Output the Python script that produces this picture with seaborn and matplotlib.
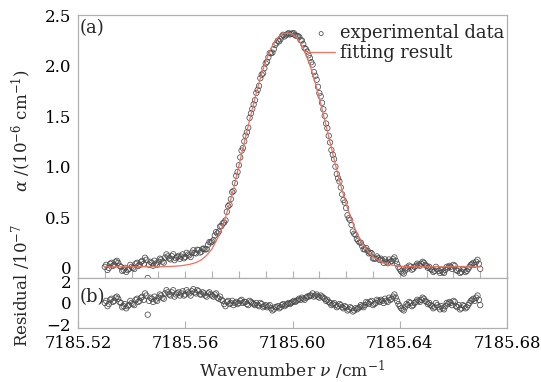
import numpy as np
import pandas as pd
import matplotlib
matplotlib.use('Agg')
import matplotlib.pyplot as plt
from matplotlib.ticker import MultipleLocator
import seaborn as sns

# Wavenumber grids (cm^-1): points on the 0.001 grid and the half-steps between them
wavenumber = np.round(np.arange(7185.530, 7185.6705, 0.001), 4)
wavenumber_mid = np.round(np.arange(7185.5305, 7185.6700, 0.001), 4)

# Fitting result, 10^-6 cm^-1
fit_curve = [
    0.010, 0.010, 0.010, 0.010, 0.010, 0.010, 0.010, 0.010, 0.010, 0.010,
    0.010, 0.010, 0.010, 0.010, 0.010, 0.010, 0.010, 0.010, 0.011, 0.011,
    0.011, 0.012, 0.012, 0.013, 0.014, 0.015, 0.016, 0.018, 0.020, 0.023,
    0.027, 0.031, 0.037, 0.044, 0.053, 0.065, 0.080, 0.100, 0.125, 0.155,
    0.190, 0.240, 0.290, 0.350, 0.420, 0.500, 0.590, 0.680, 0.780, 0.900,
    1.015, 1.129, 1.240, 1.351, 1.463, 1.572, 1.678, 1.780, 1.875, 1.963,
    2.042, 2.112, 2.172, 2.222, 2.261, 2.289, 2.308, 2.318, 2.320, 2.318,
    2.308, 2.289, 2.261, 2.222, 2.172, 2.112, 2.042, 1.963, 1.875, 1.780,
    1.678, 1.572, 1.463, 1.351, 1.240, 1.129, 1.021, 0.916, 0.815, 0.721,
    0.632, 0.550, 0.475, 0.407, 0.346, 0.292, 0.245, 0.204, 0.169, 0.139,
    0.113, 0.092, 0.075, 0.061, 0.049, 0.040, 0.033, 0.027, 0.023, 0.020,
    0.017, 0.015, 0.014, 0.013, 0.012, 0.012, 0.011, 0.011, 0.011, 0.010,
    0.010, 0.010, 0.010, 0.010, 0.010, 0.010, 0.010, 0.010, 0.010, 0.010,
    0.010, 0.010, 0.010, 0.010, 0.010, 0.010, 0.010, 0.010, 0.010, 0.010,
    0.010,
]
fit_curve_mid = [
    0.010, 0.010, 0.010, 0.010, 0.010, 0.010, 0.010, 0.010, 0.010, 0.010,
    0.010, 0.010, 0.010, 0.010, 0.010, 0.010, 0.010, 0.010, 0.011, 0.011,
    0.011, 0.012, 0.012, 0.013, 0.014, 0.015, 0.017, 0.019, 0.021, 0.025,
    0.029, 0.034, 0.040, 0.048, 0.059, 0.072, 0.089, 0.112, 0.139, 0.172,
    0.214, 0.264, 0.319, 0.384, 0.459, 0.544, 0.634, 0.729, 0.838, 0.958,
    1.072, 1.185, 1.296, 1.407, 1.518, 1.626, 1.730, 1.829, 1.920, 2.004,
    2.078, 2.143, 2.198, 2.243, 2.276, 2.300, 2.314, 2.320, 2.320, 2.314,
    2.300, 2.276, 2.243, 2.198, 2.143, 2.078, 2.004, 1.920, 1.829, 1.730,
    1.626, 1.518, 1.407, 1.296, 1.185, 1.075, 0.968, 0.865, 0.767, 0.676,
    0.590, 0.512, 0.440, 0.376, 0.318, 0.268, 0.224, 0.186, 0.153, 0.125,
    0.102, 0.083, 0.068, 0.055, 0.044, 0.036, 0.030, 0.025, 0.021, 0.018,
    0.016, 0.014, 0.013, 0.012, 0.012, 0.011, 0.011, 0.011, 0.010, 0.010,
    0.010, 0.010, 0.010, 0.010, 0.010, 0.010, 0.010, 0.010, 0.010, 0.010,
    0.010, 0.010, 0.010, 0.010, 0.010, 0.010, 0.010, 0.010, 0.010, 0.010,
]

# Residual, 10^-7
residual = [
    0.0, -0.3, 0.3, 0.1, 0.5, 0.4, 0.0, -0.3, -0.5, -0.2,
    0.0, -0.2, 0.4, 0.2, 0.6, 0.9, -1.1, 0.5, 0.1, 0.3,
    0.5, 0.7, 0.4, 1.2, 0.8, 1.0, 0.6, 0.9, 0.7, 1.1,
    0.8, 1.0, 0.7, 1.3, 0.9, 1.1, 0.8, 0.9, 0.6, 1.0,
    0.7, 0.8, 0.5, 0.6, 0.2, -0.3, 0.2, 0.0, -0.2, 0.1,
    0.0, 0.3, 0.1, -0.1, 0.2, 0.0, -0.2, -0.2, 0.0, -0.4,
    -0.2, -0.3, -0.5, -0.6, -0.4, -0.5, -0.2, -0.3, -0.1, -0.1,
    0.1, 0.1, 0.3, 0.3, 0.4, 0.5, 0.6, 0.7, 0.6, 0.8,
    0.5, 0.6, 0.4, 0.3, 0.0, -0.1, -0.2, -0.3, -0.2, -0.5,
    -0.4, -0.6, -0.5, -0.7, -0.6, -0.4, -0.3, -0.2, 0.0, 0.1,
    -0.2, 0.0, 0.2, 0.3, 0.0, 0.2, 0.5, 0.4, 0.8, 0.2,
    -0.3, -0.6, -0.4, -0.2, 0.0, -0.2, 0.1, 0.2, 0.3, 0.4,
    0.1, 0.0, -0.3, -0.4, -0.2, -0.6, -0.5, -0.3, -0.1, 0.0,
    0.2, -0.3, -0.2, -0.5, -0.3, -0.4, 0.0, 0.3, 0.2, 0.7,
    -0.2,
]
residual_mid = [
    0.2, -0.1, 0.4, 0.2, 0.6, 0.1, -0.4, -0.1, -0.3, 0.2,
    -0.1, 0.3, 0.1, 0.5, 0.3, 0.7, 0.2, 0.4, 0.6, 0.2,
    0.8, 0.5, 0.9, 1.0, 0.7, 1.2, 0.8, 1.0, 0.9, 0.7,
    1.2, 0.9, 1.1, 1.0, 1.2, 0.8, 1.0, 0.7, 0.9, 0.8,
    0.6, 0.9, 0.4, 0.3, -0.1, 0.1, -0.1, 0.2, 0.0, -0.1,
    0.2, 0.0, 0.1, -0.2, 0.1, -0.1, 0.0, -0.3, -0.1, -0.3,
    -0.4, -0.2, -0.7, -0.4, -0.3, -0.4, -0.1, -0.2, 0.0, 0.0,
    0.2, 0.2, 0.4, 0.5, 0.3, 0.6, 0.7, 0.9, 0.7, 0.6,
    0.7, 0.5, 0.2, 0.1, -0.2, 0.0, -0.4, -0.1, -0.4, -0.3,
    -0.7, -0.4, -0.8, -0.5, -0.5, -0.2, -0.4, 0.1, -0.1, 0.2,
    -0.1, 0.3, 0.1, 0.2, 0.4, 0.1, 0.3, 0.6, 0.5, -0.1,
    -0.5, -0.7, -0.1, 0.1, -0.3, 0.0, 0.3, 0.1, 0.5, 0.2,
    -0.1, -0.2, -0.5, 0.0, -0.4, -0.3, -0.6, 0.0, 0.1, -0.2,
    0.1, -0.4, -0.6, -0.2, -0.5, -0.2, 0.2, 0.4, 0.5, 0.3,
]

x_ticks = [7185.52, 7185.56, 7185.60, 7185.64, 7185.68]

df = pd.concat([
    pd.DataFrame({'nu': wavenumber, 'fit': fit_curve, 'res': residual}),
    pd.DataFrame({'nu': wavenumber_mid, 'fit': fit_curve_mid, 'res': residual_mid}),
]).sort_values('nu').reset_index(drop=True)
# experimental = fit + residual (10^-7 -> 10^-6)
df['exp'] = df['fit'] + df['res'] * 0.1

sns.set_style('white')
plt.rcParams['font.family'] = ['DejaVu Serif']
plt.rcParams['mathtext.fontset'] = 'dejavuserif'
plt.rcParams['axes.unicode_minus'] = True

FS = 12
SPINE = '#b0b0b0'
PT_EDGE = '#4a4a4a'
FIT_RED = '#f07060'

fig = plt.figure(figsize=(5.41, 3.82), dpi=100)
ax1 = fig.add_axes([0.1442, 0.2723, 0.7930, 0.6884])
ax2 = fig.add_axes([0.1442, 0.1414, 0.7930, 0.1309], sharex=ax1)

# (a) absorption profile
sns.scatterplot(data=df, x='nu', y='exp', ax=ax1, marker='o', s=15,
                facecolors='none', edgecolor=PT_EDGE, linewidth=0.55,
                label='experimental data', legend=False)
sns.lineplot(data=df, x='nu', y='fit', ax=ax1, color=FIT_RED, lw=0.9,
             label='fitting result', legend=False)

# (b) residual
sns.scatterplot(data=df, x='nu', y='res', ax=ax2, marker='o', s=15,
                facecolors='none', edgecolor=PT_EDGE, linewidth=0.55,
                legend=False)

ax1.set_xlim(7185.52, 7185.68)
ax1.set_ylim(-0.1, 2.5)
ax1.set_yticks([0, 0.5, 1.0, 1.5, 2.0, 2.5])
ax1.set_yticklabels(['0', '0.5', '1.0', '1.5', '2.0', '2.5'])
ax2.set_ylim(-2.35, 2.35)
ax2.set_yticks([-2, 0, 2])
ax2.set_yticklabels(['\u22122', '0', '2'])

ax2.set_xticks(x_ticks)
ax2.set_xticklabels([f'{t:.2f}' for t in x_ticks])
ax1.xaxis.set_minor_locator(MultipleLocator(0.01))

for ax in (ax1, ax2):
    for sp in ax.spines.values():
        sp.set_color(SPINE)
        sp.set_linewidth(0.9)
    ax.tick_params(axis='y', left=False, length=0, labelsize=FS, pad=5,
                   colors='black')
    ax.set_xlabel('')
    ax.set_ylabel('')

ax1.tick_params(axis='x', which='both', bottom=True, labelbottom=False,
                direction='in', length=5, width=0.8, color=SPINE)
ax2.tick_params(axis='x', which='major', bottom=True, direction='in',
                length=5, width=0.8, color=SPINE, labelsize=FS - 0.3, pad=5,
                labelcolor='black')
ax2.tick_params(axis='x', which='minor', bottom=False, length=0)

ax1.set_ylabel(r'$\alpha$ /(10$^{-6}$ cm$^{-1}$)', fontsize=FS)
ax1.yaxis.set_label_coords(-0.105, 0.56)
ax2.set_ylabel(r'Residual /10$^{-7}$', fontsize=FS)
ax2.yaxis.set_label_coords(-0.105, 0.86)
ax2.set_xlabel(r'Wavenumber $\nu$ /cm$^{-1}$', fontsize=FS + 0.3, labelpad=5)

ax1.text(0.004, 0.985, '(a)', transform=ax1.transAxes, fontsize=FS + 1,
         ha='left', va='top')
ax2.text(0.004, 0.80, '(b)', transform=ax2.transAxes, fontsize=FS + 1,
         ha='left', va='top')

ax1.legend(loc='upper right', bbox_to_anchor=(1.0, 0.975), frameon=False,
           fontsize=FS + 0.9, handlelength=1.6, handletextpad=0.25,
           labelspacing=0.1, borderaxespad=0.0, borderpad=0.15,
           markerscale=0.75)

fig.savefig('out.png', dpi=100)
